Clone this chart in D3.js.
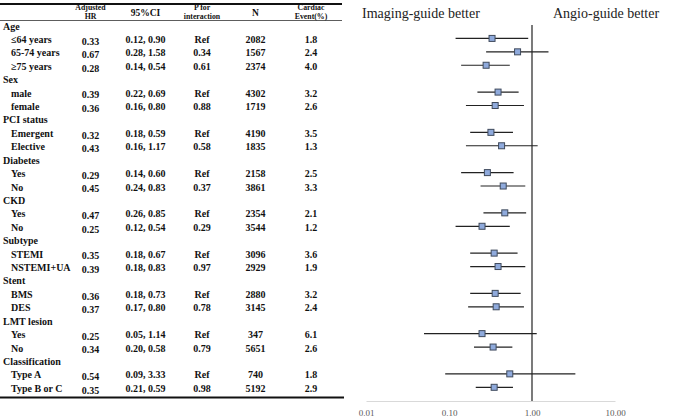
<!DOCTYPE html>
<html>
<head>
<meta charset="utf-8">
<script src="https://cdn.jsdelivr.net/npm/d3@7"></script>
<style>
  body { margin: 0; background: #fff; }
  svg text { font-family: "Liberation Serif", "Times New Roman", serif; }
</style>
</head>
<body>
<svg id="chart" width="677" height="419"></svg>
<script>
// subgroup rows (header rows have no values)
var labels = ["Age", "\u226464 years", "65-74 years", "\u226575 years",
  "Sex", "male", "female",
  "PCI status", "Emergent", "Elective",
  "Diabetes", "Yes", "No",
  "CKD", "Yes", "No",
  "Subtype", "STEMI", "NSTEMI+UA",
  "Stent", "BMS", "DES",
  "LMT lesion", "Yes", "No",
  "Classification", "Type A", "Type B or C"];
var hr = [null, 0.33, 0.67, 0.28, null, 0.39, 0.36, null, 0.32, 0.43, null, 0.29, 0.45,
  null, 0.47, 0.25, null, 0.35, 0.39, null, 0.36, 0.37, null, 0.25, 0.34, null, 0.54, 0.35];
var lo = [null, 0.12, 0.28, 0.14, null, 0.22, 0.16, null, 0.18, 0.16, null, 0.14, 0.24,
  null, 0.26, 0.12, null, 0.18, 0.18, null, 0.18, 0.17, null, 0.05, 0.20, null, 0.09, 0.21];
var hi = [null, 0.90, 1.58, 0.54, null, 0.69, 0.80, null, 0.59, 1.17, null, 0.60, 0.83,
  null, 0.85, 0.54, null, 0.67, 0.83, null, 0.73, 0.80, null, 1.14, 0.58, null, 3.33, 0.59];
var pInt = [null, "Ref", "0.34", "0.61", null, "Ref", "0.88", null, "Ref", "0.58", null, "Ref", "0.37",
  null, "Ref", "0.29", null, "Ref", "0.97", null, "Ref", "0.78", null, "Ref", "0.79", null, "Ref", "0.98"];
var nPat = [null, 2082, 1567, 2374, null, 4302, 1719, null, 4190, 1835, null, 2158, 3861,
  null, 2354, 3544, null, 3096, 2929, null, 2880, 3145, null, 347, 5651, null, 740, 5192];
var events = [null, "1.8", "2.4", "4.0", null, "3.2", "2.6", null, "3.5", "1.3", null, "2.5", "3.3",
  null, "2.1", "1.2", null, "3.6", "1.9", null, "3.2", "2.4", null, "6.1", "2.6", null, "1.8", "2.9"];
var headers = [["Adjusted", "HR"], ["95%CI"], ["P for", "interaction"], ["N"], ["Cardiac", "Event(%)"]];
var ticks = [0.01, 0.1, 1, 10];

var svg = d3.select("#chart");
var rows = d3.range(labels.length);

var y = d3.scaleLinear().domain([0, labels.length - 1]).range([25, 387.3]);
var x = d3.scaleLog().domain([0.01, 10]).range([366, 615]);
var colX = [90.5, 145.5, 202, 255.5, 311];

// ---- table ----
var tbl = svg.append("g").attr("font-weight", "bold").attr("fill", "#111");

tbl.append("line").attr("x1", 0).attr("x2", 342).attr("y1", 4).attr("y2", 4)
  .attr("stroke", "#111").attr("stroke-width", 2);
tbl.append("line").attr("x1", 0).attr("x2", 342).attr("y1", 20.5).attr("y2", 20.5)
  .attr("stroke", "#333").attr("stroke-width", 0.8);
tbl.append("line").attr("x1", 0).attr("x2", 344).attr("y1", 397.5).attr("y2", 397.5)
  .attr("stroke", "#111").attr("stroke-width", 2);

// header, two-line cells as separate texts
headers.forEach(function(h, i) {
  h.forEach(function(line, k) {
    tbl.append("text").attr("text-anchor", "middle")
      .attr("font-size", h.length === 1 ? 9.5 : 7.8)
      .attr("x", colX[i])
      .attr("y", h.length === 1 ? 15.5 : 10.3 + k * 8.7)
      .text(line);
  });
});

tbl.selectAll(".lab").data(rows).enter().append("text")
  .attr("class", "lab")
  .attr("x", function(i) { return hr[i] === null ? 3 : 11; })
  .attr("y", function(i) { return y(i) + 4.5; })
  .attr("font-size", 10)
  .text(function(i) { return labels[i]; });

var valRows = rows.filter(function(i) { return hr[i] !== null; });
var cols = [
  function(i) { return hr[i].toFixed(2); },
  function(i) { return lo[i].toFixed(2) + ", " + hi[i].toFixed(2); },
  function(i) { return pInt[i]; },
  function(i) { return nPat[i]; },
  function(i) { return events[i]; }
];
cols.forEach(function(fn, c) {
  tbl.selectAll(".c" + c).data(valRows).enter().append("text")
    .attr("class", "c" + c)
    .attr("text-anchor", "middle")
    .attr("font-size", 10)
    .attr("x", colX[c])
    .attr("y", function(i) { return y(i) + 4.5 + (c === 0 ? 1.8 : 0); })
    .text(fn);
});

// ---- forest plot ----
var fp = svg.append("g");

fp.append("text").attr("x", 362).attr("y", 18).attr("font-size", 14).attr("fill", "#222")
  .text("Imaging-guide better");
fp.append("text").attr("x", 553).attr("y", 18).attr("font-size", 14).attr("fill", "#222")
  .text("Angio-guide better");

var axis = fp.append("g").attr("transform", "translate(0,401)")
  .call(d3.axisBottom(x).tickValues(ticks).tickSize(0).tickPadding(9)
    .tickFormat(d3.format(".2f")));
axis.select(".domain").attr("stroke", "#d9d9d9").attr("stroke-width", 1);
axis.selectAll("text").attr("font-family", "'Liberation Sans', Arial, sans-serif")
  .attr("font-size", 9).attr("fill", "#595959");

fp.append("line").attr("x1", x(1)).attr("x2", x(1)).attr("y1", 25).attr("y2", 401)
  .attr("stroke", "#333").attr("stroke-width", 1.3);

fp.selectAll(".ci").data(valRows).enter().append("line")
  .attr("class", "ci")
  .attr("x1", function(i) { return x(lo[i]); })
  .attr("x2", function(i) { return x(hi[i]); })
  .attr("y1", function(i) { return y(i); })
  .attr("y2", function(i) { return y(i); })
  .attr("stroke", "#222").attr("stroke-width", 1.2);

var s = 6;
fp.selectAll(".pt").data(valRows).enter().append("rect")
  .attr("class", "pt")
  .attr("x", function(i) { return x(hr[i]) - s / 2; })
  .attr("y", function(i) { return y(i) - s / 2; })
  .attr("width", s).attr("height", s)
  .attr("fill", "#8faadc").attr("stroke", "#3f4a5c").attr("stroke-width", 1);
</script>
</body>
</html>
